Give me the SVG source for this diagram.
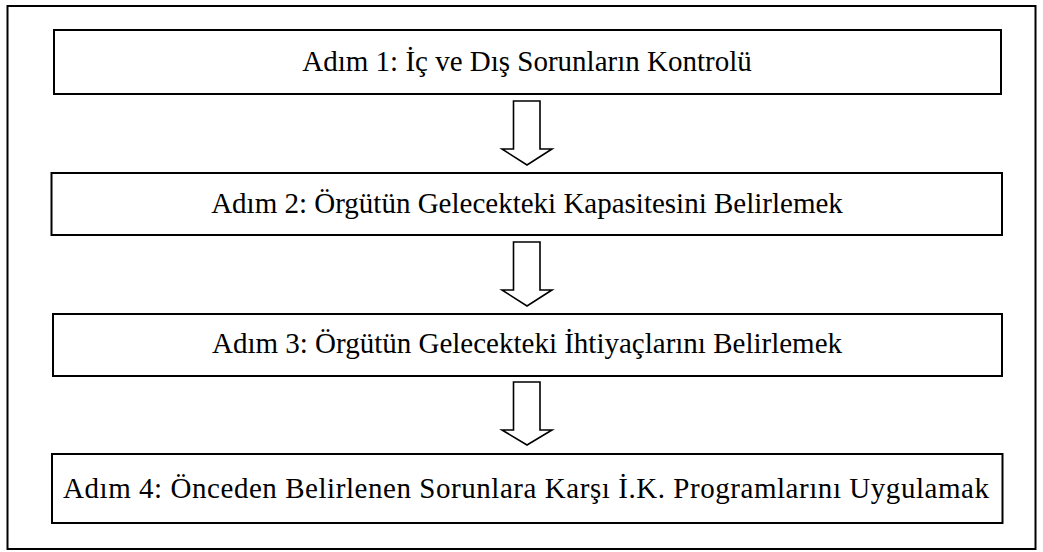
<svg xmlns="http://www.w3.org/2000/svg" width="1043" height="552" viewBox="0 0 1043 552">
  <style>
    .frame { fill: none; stroke: #000; stroke-width: 2; }
    .box { fill: #fff; stroke: #000; stroke-width: 2; }
    .arrow { fill: #fff; stroke: #000; stroke-width: 1.6; stroke-linejoin: miter; }
    .label { font-family: "Liberation Serif", "Times New Roman", serif; font-size: 29px; fill: #000; text-anchor: middle; }
  </style>
  <rect x="0" y="0" width="1043" height="552" fill="#fff"/>
  <!-- outer frame -->
  <rect class="frame" x="7.5" y="6" width="1028" height="543"/>

  <g id="step1">
    <rect class="box" x="54" y="30" width="947" height="64"/>
    <text class="label" x="527" y="71">Adım 1: İç ve Dış Sorunların Kontrolü</text>
  </g>
  <g id="step2">
    <rect class="box" x="51.5" y="173" width="950.5" height="62"/>
    <text class="label" x="527" y="213">Adım 2: Örgütün Gelecekteki Kapasitesini Belirlemek</text>
  </g>
  <g id="step3">
    <rect class="box" x="53" y="314" width="949" height="62"/>
    <text class="label" x="527" y="353">Adım 3: Örgütün Gelecekteki İhtiyaçlarını Belirlemek</text>
  </g>
  <g id="step4">
    <rect class="box" x="52" y="454" width="950.5" height="69"/>
    <text class="label" x="526" y="498" textLength="926" lengthAdjust="spacing">Adım 4: Önceden Belirlenen Sorunlara Karşı İ.K. Programlarını Uygulamak</text>
  </g>

  <g id="connectors">
    <polygon class="arrow" points="513.5,101 540,101 540,149 552,149 527,165 502,149 513.5,149"/>
    <polygon class="arrow" points="513.5,242 540,242 540,290 552,290 527,306 502,290 513.5,290"/>
    <polygon class="arrow" points="513.5,382 540,382 540,430 552,430 527,445 502,430 513.5,430"/>
  </g>
</svg>
